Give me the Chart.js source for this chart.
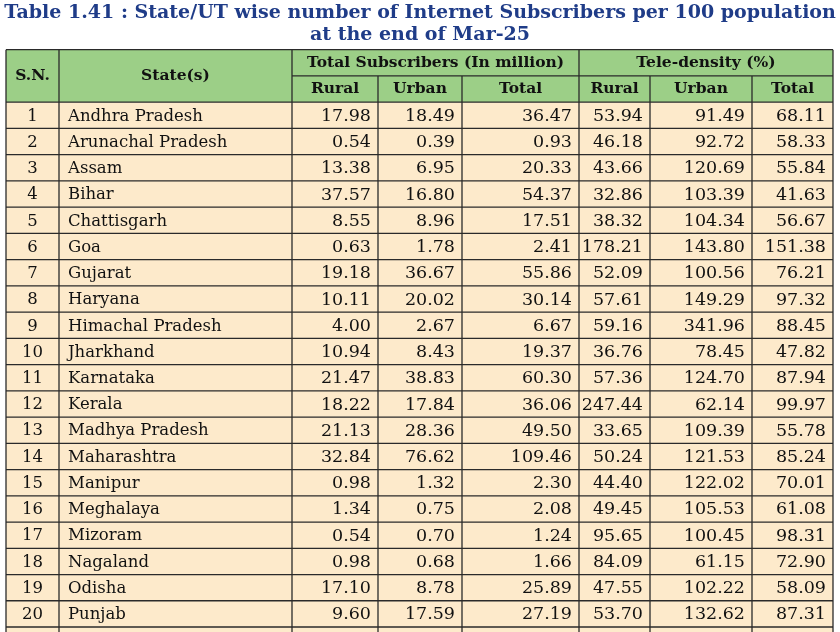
<!DOCTYPE html>
<html>
<head>
<meta charset="utf-8">
<script src="https://cdn.jsdelivr.net/npm/chart.js@4"></script>
<style>
  body { margin: 0; background: #fff; }
  #wrap { width: 840px; height: 632px; }
</style>
</head>
<body>
<div id="wrap"><canvas id="myChart"></canvas></div>
<script>
// table data
const states = ['Andhra Pradesh', 'Arunachal Pradesh', 'Assam', 'Bihar', 'Chattisgarh', 'Goa', 'Gujarat',
  'Haryana', 'Himachal Pradesh', 'Jharkhand', 'Karnataka', 'Kerala', 'Madhya Pradesh', 'Maharashtra',
  'Manipur', 'Meghalaya', 'Mizoram', 'Nagaland', 'Odisha', 'Punjab']
const subRural = ['17.98', '0.54', '13.38', '37.57', '8.55', '0.63', '19.18', '10.11', '4.00', '10.94',
  '21.47', '18.22', '21.13', '32.84', '0.98', '1.34', '0.54', '0.98', '17.10', '9.60']
const subUrban = ['18.49', '0.39', '6.95', '16.80', '8.96', '1.78', '36.67', '20.02', '2.67', '8.43',
  '38.83', '17.84', '28.36', '76.62', '1.32', '0.75', '0.70', '0.68', '8.78', '17.59']
const subTotal = ['36.47', '0.93', '20.33', '54.37', '17.51', '2.41', '55.86', '30.14', '6.67', '19.37',
  '60.30', '36.06', '49.50', '109.46', '2.30', '2.08', '1.24', '1.66', '25.89', '27.19']
const teleRural = ['53.94', '46.18', '43.66', '32.86', '38.32', '178.21', '52.09', '57.61', '59.16', '36.76',
  '57.36', '247.44', '33.65', '50.24', '44.40', '49.45', '95.65', '84.09', '47.55', '53.70']
const teleUrban = ['91.49', '92.72', '120.69', '103.39', '104.34', '143.80', '100.56', '149.29', '341.96', '78.45',
  '124.70', '62.14', '109.39', '121.53', '122.02', '105.53', '100.45', '61.15', '102.22', '132.62']
const teleTotal = ['68.11', '58.33', '55.84', '41.63', '56.67', '151.38', '76.21', '97.32', '88.45', '47.82',
  '87.94', '99.97', '55.78', '85.24', '70.01', '61.08', '98.31', '72.90', '58.09', '87.31']
const groupHeads = ['Total Subscribers (In million)', 'Tele-density (%)']
const subHeads = ['Rural', 'Urban', 'Total', 'Rural', 'Urban', 'Total']

// column edges on the x scale
const colEdges = [6, 59, 292, 378, 462, 579, 650, 752, 833]

const cols = [subRural, subUrban, subTotal, teleRural, teleUrban, teleTotal]

const HEAD = '#9ccf87'
const CELL = '#fdeacb'
const LINE = '#2a2a2a'
const FONT = '"DejaVu Serif", serif'

const tablePlugin = {
  id: 'table',
  afterDraw(chart) {
    const ctx = chart.ctx
    const x = chart.scales.x, y = chart.scales.y
    const px = v => x.getPixelForValue(v)
    const py = v => y.getPixelForValue(v)
    ctx.save()
    // header background
    ctx.fillStyle = HEAD
    ctx.fillRect(px(colEdges[0]), py(-2), px(colEdges[8]) - px(colEdges[0]), py(0) - py(-2))
    // body background
    ctx.fillStyle = CELL
    ctx.fillRect(px(colEdges[0]), py(0), px(colEdges[8]) - px(colEdges[0]), py(21) - py(0))

    ctx.strokeStyle = LINE
    ctx.lineWidth = 1.3
    const hline = (r, a, b) => { ctx.beginPath(); ctx.moveTo(px(a), py(r)); ctx.lineTo(px(b), py(r)); ctx.stroke() }
    const vline = (c, r0, r1) => { ctx.beginPath(); ctx.moveTo(px(c), py(r0)); ctx.lineTo(px(c), py(r1)); ctx.stroke() }
    hline(-2, colEdges[0], colEdges[8])
    hline(-1, colEdges[2], colEdges[8])
    for (let r = 0; r <= 21; r++) hline(r, colEdges[0], colEdges[8])
    colEdges.forEach((c, i) => {
      const start = (i === 3 || i === 4 || i === 6 || i === 7) ? -1 : -2
      vline(c, start, 21)
    })

    // header text
    ctx.fillStyle = '#111'
    ctx.textBaseline = 'middle'
    ctx.textAlign = 'center'
    ctx.font = 'bold 15.5px ' + FONT
    ctx.fillText('S.N.', (px(colEdges[0]) + px(colEdges[1])) / 2, py(-1))
    ctx.fillText('State(s)', (px(colEdges[1]) + px(colEdges[2])) / 2, py(-1))
    ctx.fillText(groupHeads[0], (px(colEdges[2]) + px(colEdges[5])) / 2, py(-1.5))
    ctx.fillText(groupHeads[1], (px(colEdges[5]) + px(colEdges[8])) / 2, py(-1.5))
    subHeads.forEach((h, i) => {
      ctx.fillText(h, (px(colEdges[i + 2]) + px(colEdges[i + 3])) / 2, py(-0.5))
    })

    // body text
    states.forEach((s, r) => {
      const yc = py(r + 0.5) + 1
      ctx.font = '16.5px ' + FONT
      ctx.textAlign = 'center'
      ctx.fillText(String(r + 1), (px(colEdges[0]) + px(colEdges[1])) / 2, yc)
      ctx.textAlign = 'left'
      ctx.fillText(s, px(colEdges[1]) + 9, yc)
      ctx.font = '17.5px ' + FONT
      ctx.textAlign = 'right'
      cols.forEach((col, i) => ctx.fillText(col[r], px(colEdges[i + 3]) - 7, yc))
    })
    ctx.restore()
  }
}

new Chart(document.getElementById('myChart'), {
  type: 'scatter',
  data: { datasets: [{ data: [] }] },
  options: {
    responsive: true,
    maintainAspectRatio: false,
    animation: false,
    layout: { padding: 0 },
    plugins: {
      legend: { display: false },
      tooltip: { enabled: false },
      title: {
        display: true,
        text: ['Table 1.41 : State/UT wise number of Internet Subscribers per 100 population', 'at the end of Mar-25'],
        color: '#1f3c88',
        font: { family: FONT, size: 19, weight: 'bold', lineHeight: 1.15 },
        padding: { top: 2, bottom: 4 }
      }
    },
    scales: {
      x: { type: 'linear', display: false, min: 0, max: 840 },
      y: { type: 'linear', display: false, min: -2, max: 20.19, reverse: true }
    }
  },
  plugins: [tablePlugin]
})
</script>
</body>
</html>
